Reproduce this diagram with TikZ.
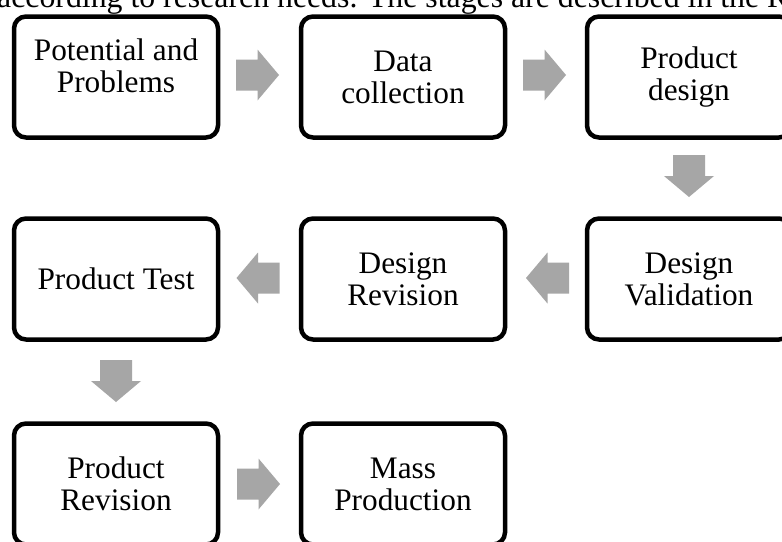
\documentclass[tikz,border=0pt]{standalone}
\usepackage{fontspec}
\setmainfont{Liberation Serif}
\definecolor{arrgray}{RGB}{166,166,166}
\tikzset{
  stepbox/.style={draw=black, line width=4.5pt, rounded corners=12pt,
    minimum width=204pt, minimum height=121pt, inner sep=0pt, fill=white},
  boxtext/.style={align=center, inner sep=0pt, font=\fontsize{31.3}{32}\selectfont},
  rarr/.pic={\fill[arrgray] (-21.5,-15.5) -- (0,-15.5) -- (0,-25.5) -- (21.5,0) -- (0,25.5) -- (0,15.5) -- (-21.5,15.5) -- cycle;},
  larr/.pic={\fill[arrgray] (21.5,-15.5) -- (0,-15.5) -- (0,-25.5) -- (-21.5,0) -- (0,25.5) -- (0,15.5) -- (21.5,15.5) -- cycle;},
  darr/.pic={\fill[arrgray] (-16,-21) -- (16,-21) -- (16,0) -- (25,0) -- (0,21) -- (-25,0) -- (-16,0) -- cycle;}
}
\begin{document}
\begin{tikzpicture}[x=1pt,y=-1pt]
\useasboundingbox (0,0) rectangle (782,541);
\clip (0,0) rectangle (782,541);
\fill[white] (0,0) rectangle (782,541);

\node[anchor=base west, inner sep=0pt, font=\fontsize{31.8}{36}\selectfont] (intro) at (-3,7)
  {according to research needs. The stages are described in the R};

% row 1
\node[stepbox] (b1) at (116,77) {};
\node[boxtext] (t1) at (116,66) {Potential and\\Problems};
\node[stepbox] (b2) at (403,77) {};
\node[boxtext] (t2) at (b2) {Data\\collection};
\node[stepbox] (b3) at (689,77) {};
\node[boxtext] (t3) at (b3) {Product\\design};

% row 2
\node[stepbox] (b4) at (116,279) {};
\node[boxtext] (t4) at (b4) {Product Test};
\node[stepbox] (b5) at (403,279) {};
\node[boxtext] (t5) at (b5) {Design\\Revision};
\node[stepbox] (b6) at (689,279) {};
\node[boxtext] (t6) at (b6) {Design\\Validation};

% row 3
\node[stepbox] (b7) at (116,484) {};
\node[boxtext] (t7) at (b7) {Product\\Revision};
\node[stepbox] (b8) at (403,484) {};
\node[boxtext] (t8) at (b8) {Mass\\Production};

% arrows
\pic at (257.5,75) {rarr};
\pic at (544.5,75) {rarr};
\pic at (689,176) {darr};
\pic at (547.5,278) {larr};
\pic at (258,278) {larr};
\pic at (116,381) {darr};
\pic at (258.5,484) {rarr};
\end{tikzpicture}
\end{document}
